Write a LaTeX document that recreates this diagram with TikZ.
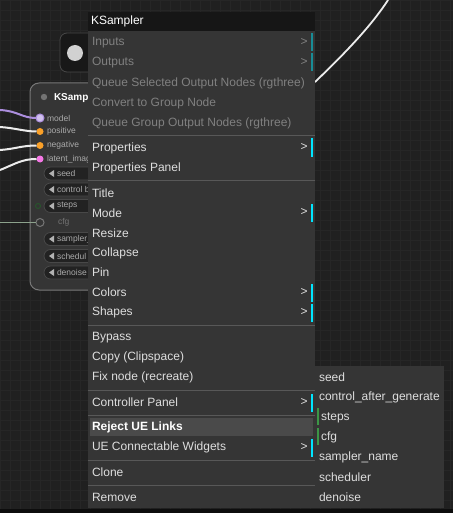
\documentclass[tikz,border=0pt]{standalone}
\usepackage{fontspec}
\setmainfont{Liberation Sans}
\usetikzlibrary{calc,positioning}

\definecolor{canvas}{RGB}{32,32,32}
\definecolor{gridcol}{RGB}{38,38,38}
\definecolor{menubg}{RGB}{53,53,53}
\definecolor{titlebg}{RGB}{22,22,22}
\definecolor{sepcol}{RGB}{88,88,88}
\definecolor{hilite}{RGB}{74,74,74}
\definecolor{itemfg}{RGB}{222,222,222}
\definecolor{dimfg}{RGB}{128,128,128}
\definecolor{cyanbar}{RGB}{0,229,255}
\definecolor{tealbar}{RGB}{24,140,150}
\definecolor{greenbar}{RGB}{60,150,70}
\definecolor{nodebg}{RGB}{53,53,53}
\definecolor{nodeedge}{RGB}{120,120,120}
\definecolor{pillbg}{RGB}{34,34,34}
\definecolor{pilledge}{RGB}{72,72,72}
\definecolor{slotfg}{RGB}{170,170,170}
\definecolor{wirewhite}{RGB}{236,236,236}
\definecolor{wirepurple}{RGB}{172,142,222}
\definecolor{wiregreen}{RGB}{140,162,140}
\definecolor{dotorange}{RGB}{250,160,40}
\definecolor{dotpink}{RGB}{245,120,230}

\begin{document}
\begin{tikzpicture}[x=1pt,y=-1pt,inner sep=0pt,outer sep=0pt,
    item/.style={anchor=west, text=itemfg, font=\fontsize{12}{14}\selectfont},
    dimitem/.style={item, text=dimfg},
    more/.style={anchor=center, text=itemfg, font=\fontsize{12}{14}\selectfont},
    dimmore/.style={more, text=dimfg},
    sepline/.style={draw=sepcol, line width=1pt},
    slot/.style={circle, minimum size=7pt},
    slotlabel/.style={anchor=west, text=slotfg, font=\fontsize{8.5}{9}\selectfont},
    pill/.style={draw=pilledge, fill=pillbg, rounded corners=6.5pt, line width=0.8pt},
    wire/.style={line width=2pt, wirewhite}]

    \useasboundingbox (0,0) rectangle (453,513);
    % canvas
    \fill[canvas] (0,0) rectangle (453,513);
    \foreach \gx in {0,10,...,450} {\draw[gridcol, line width=0.5pt] (\gx,0) -- (\gx,513);}
    \foreach \gy in {0,10,...,510} {\draw[gridcol, line width=0.5pt] (0,\gy) -- (453,\gy);}
    \fill[black!60!canvas] (0,509) rectangle (453,513);

    % nodes behind the menu
    \begin{scope}
    \clip (0,0) rectangle (88,513);
    \draw[fill=titlebg!80!canvas, draw=pilledge, rounded corners=7pt, line width=0.8pt]
        (60,33) rectangle (130,72);
    \node[circle, fill=black!18, minimum size=16pt] (knob) at (75,53) {};

    \draw[fill=nodebg, draw=nodeedge, rounded corners=9pt, line width=1pt]
        (30,83) rectangle (170,290);
    \fill[black!55] (44,97) circle (3.2);
    \node[anchor=west, text=white, font=\bfseries\fontsize{10}{11}\selectfont] (ksnode) at (54,97.5) {KSampl};

    % inputs
    \node[slot, draw=wirepurple, fill=wirepurple!55!white, line width=1pt, minimum size=8pt] (model) at (40,118) {};
    \node[slot, fill=dotorange] (positive) at (40,131.5) {};
    \node[slot, fill=dotorange] (negative) at (40,145.5) {};
    \node[slot, fill=dotpink] (latent) at (40,159) {};
    \node[slotlabel] (model_lbl) at (47,118) {model};
    \node[slotlabel] (positive_lbl) at (47,131.5) {positive};
    \node[slotlabel] (negative_lbl) at (47,145.5) {negative};
    \node[slotlabel] (latent_lbl) at (47,159) {latent\_imag};

    % widgets
    \draw[pill] (44,167) rectangle (170,180);
    \draw[pill] (44,183) rectangle (170,196);
    \draw[pill] (44,199.5) rectangle (170,212.5);
    \draw[pill] (44,232.5) rectangle (170,245.5);
    \draw[pill] (44,249.5) rectangle (170,262.5);
    \draw[pill] (44,266) rectangle (170,279);
    \foreach \wy in {173.5,189.5,206,239,256,272.5}
        {\fill[slotfg!90!white] (49,\wy) -- (54,\wy-3.5) -- (54,\wy+3.5) -- cycle;}
    \node[slotlabel] (seed_w) at (57,173.5) {seed};
    \node[slotlabel] (control_w) at (57,189.5) {control b};
    \node[slotlabel] (steps_w) at (57,206) {steps};
    \node[slotlabel, text=black!55] (cfg_w) at (58,222.5) {cfg};
    \node[slotlabel] (sampler_w) at (57,239) {sampler\_};
    \node[slotlabel] (scheduler_w) at (57,256) {schedul};
    \node[slotlabel] (denoise_w) at (57,272.5) {denoise};
    \node[slot, draw=greenbar!60!black, line width=0.8pt, minimum size=5pt] (steps_in) at (38,206) {};
    \node[slot, draw=slotfg!70!black, line width=1pt, minimum size=8pt] (cfg_in) at (40,222.5) {};

    % links
    \coordinate (w_model) at (0,110);
    \coordinate (w_pos) at (0,127);
    \coordinate (w_neg) at (0,150);
    \coordinate (w_lat) at (0,170);
    \coordinate (w_cfg) at (0,222.5);
    \draw[line width=2pt, wirepurple] (w_model) .. controls (18,111) and (22,118) .. (model.west);
    \draw[wire] (w_pos) .. controls (15,128) and (25,131.5) .. (positive.west);
    \draw[wire] (w_neg) .. controls (15,149) and (22,145.5) .. (negative.west);
    \draw[wire] (w_lat) .. controls (15,164) and (22,159) .. (latent.west);
    \draw[line width=1.5pt, wiregreen] (w_cfg) -- (cfg_in.west);
    \end{scope}

    % link on the right
    \coordinate (w_top) at (388,0);
    \coordinate (w_edge) at (315,82);
    \draw[wire, line width=1.8pt] (w_edge) .. controls (340,58) and (370,28) .. (w_top);

    % context menu
    \fill[titlebg] (88,12) rectangle (315,31);
    \node[item, text=white] (menu_title) at (91,21.5) {KSampler};
    \fill[menubg] (88,31) rectangle (315,508);

    \node[dimitem] (inputs) at (92,43) {Inputs};
    \node[dimitem] (outputs) at (92,63) {Outputs};
    \node[dimitem] (queue_sel) at (92,83) {Queue Selected Output Nodes (rgthree)};
    \node[dimitem] (to_group) at (92,103) {Convert to Group Node};
    \node[dimitem] (queue_grp) at (92,123) {Queue Group Output Nodes (rgthree)};
    \draw[sepline] (88,135.5) -- (315,135.5);
    \node[item] (properties) at (92,148) {Properties};
    \node[item] (prop_panel) at (92,168) {Properties Panel};
    \draw[sepline] (88,180.5) -- (315,180.5);
    \node[item] (title) at (92,193) {Title};
    \node[item] (mode) at (92,213) {Mode};
    \node[item] (resize) at (92,233) {Resize};
    \node[item] (collapse) at (92,253) {Collapse};
    \node[item] (pin) at (92,272.5) {Pin};
    \node[item] (colors) at (92,292.5) {Colors};
    \node[item] (shapes) at (92,312.5) {Shapes};
    \draw[sepline] (88,325) -- (315,325);
    \node[item] (bypass) at (92,337.5) {Bypass};
    \node[item] (copy) at (92,357.5) {Copy (Clipspace)};
    \node[item] (fixnode) at (92,377.5) {Fix node (recreate)};
    \draw[sepline] (88,390) -- (315,390);
    \node[item] (ctrl_panel) at (92,402.5) {Controller Panel};
    \draw[sepline] (88,415.5) -- (315,415.5);
    \fill[hilite] (90,418) rectangle (313,436);
    \node[item, text=white, font=\bfseries\fontsize{12}{14}\selectfont] (reject) at (92,427.5) {Reject UE Links};
    \node[item] (ue_widgets) at (92,447.5) {UE Connectable Widgets};
    \draw[sepline] (88,460.5) -- (315,460.5);
    \node[item] (clone) at (92,472.5) {Clone};
    \draw[sepline] (88,485.5) -- (315,485.5);
    \node[item] (remove) at (92,497.5) {Remove};

    % submenu markers
    \node[dimmore] (inputs_more) at (304,42.5) {>};
    \node[dimmore] (outputs_more) at (304,62.5) {>};
    \node[more] (properties_more) at (304,147.5) {>};
    \node[more] (mode_more) at (304,212.5) {>};
    \node[more] (colors_more) at (304,292) {>};
    \node[more] (shapes_more) at (304,312) {>};
    \node[more] (ctrl_more) at (304,402) {>};
    \node[more] (ue_more) at (304,447) {>};
    \fill[tealbar] (311,33.5) rectangle (313,51.5);
    \fill[tealbar] (311,53.5) rectangle (313,71.5);
    \fill[cyanbar] (311,138.5) rectangle (313,156.5);
    \fill[cyanbar] (311,203.5) rectangle (313,221.5);
    \fill[cyanbar] (311,283.5) rectangle (313,301.5);
    \fill[cyanbar] (311,303.5) rectangle (313,321.5);
    \fill[cyanbar] (311,393.5) rectangle (313,411.5);
    \fill[cyanbar] (311,438.5) rectangle (313,456.5);

    % widgets submenu
    \fill[menubg] (315,366) rectangle (444,508);
    \node[item] (sub_seed) at (319,377.5) {seed};
    \node[item] (sub_control) at (319,397.5) {control\_after\_generate};
    \node[item] (sub_steps) at (321,417.5) {steps};
    \node[item] (sub_cfg) at (321,437.5) {cfg};
    \node[item] (sub_sampler) at (319,457.5) {sampler\_name};
    \node[item] (sub_scheduler) at (319,477.5) {scheduler};
    \node[item] (sub_denoise) at (319,497.5) {denoise};
    \fill[greenbar] (317.3,408) rectangle (318.8,425);
    \fill[greenbar] (317.3,428) rectangle (318.8,445);
\end{tikzpicture}
\end{document}
